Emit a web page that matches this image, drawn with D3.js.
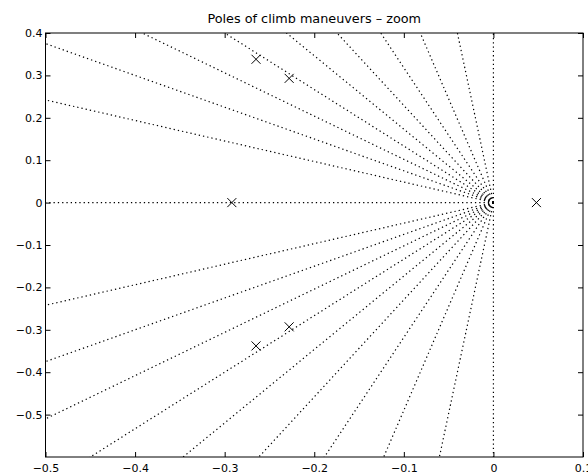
<!DOCTYPE html>
<html>
<head>
<meta charset="utf-8">
<script src="https://cdn.jsdelivr.net/npm/d3@7"></script>
<style>
  html, body { margin: 0; padding: 0; background: #fff; }
  svg { display: block; }
  text { font-family: "DejaVu Sans", sans-serif; fill: #000; }
</style>
</head>
<body>
<svg id="chart" width="588" height="475"></svg>
<script>
// Pole locations (real and imaginary parts)
const poleRe = [-0.292, -0.265, -0.265, -0.228, -0.228, 0.048];
const poleIm = [0.0, 0.338, -0.338, 0.293, -0.293, 0.0];

// Damping ratios for the constant-zeta grid rays
const zetaValues = [0, 0.1, 0.2, 0.3, 0.4, 0.5, 0.6, 0.7, 0.8, 0.9, 1.0];

// Axis ticks and limits
const xTicks = [-0.5, -0.4, -0.3, -0.2, -0.1, 0, 0.1];
const yTicks = [-0.5, -0.4, -0.3, -0.2, -0.1, 0, 0.1, 0.2, 0.3, 0.4];
const xDomain = [-0.5, 0.1];
const yDomain = [-0.6, 0.4];

const titleText = "Poles of climb maneuvers – zoom";

const box = { left: 45.5, right: 583, top: 33, bottom: 457 };

const svg = d3.select("#chart");

const x = d3.scaleLinear().domain(xDomain).range([box.left, box.right]);
const y = d3.scaleLinear().domain(yDomain).range([box.bottom, box.top]);

const fmt = d => (d === 0 ? "0" : d3.format(".1f")(d));

// Clip region for the grid
svg.append("defs").append("clipPath").attr("id", "plotClip")
  .append("rect")
  .attr("x", box.left).attr("y", box.top)
  .attr("width", box.right - box.left).attr("height", box.bottom - box.top);

// Constant damping-ratio rays, drawn outward from the origin
const wnFar = 2.0;
const rays = [];
zetaValues.forEach(z => {
  const s = Math.sqrt(1 - z * z);
  rays.push({ re: -z * wnFar, im: s * wnFar });
  if (s > 1e-9) rays.push({ re: -z * wnFar, im: -s * wnFar });
});

svg.append("g").attr("clip-path", "url(#plotClip)")
  .selectAll("line").data(rays).join("line")
  .attr("x1", x(0)).attr("y1", y(0))
  .attr("x2", d => x(d.re)).attr("y2", d => y(d.im))
  .attr("stroke", "#000")
  .attr("stroke-width", 1.2)
  .attr("stroke-dasharray", "1.3,3");

// Poles (x markers)
const m = 4.5;
const poles = poleRe.map((re, i) => ({ re, im: poleIm[i] }));
const pg = svg.append("g").selectAll("g").data(poles).join("g")
  .attr("transform", d => `translate(${x(d.re)},${y(d.im)})`);
pg.append("path")
  .attr("d", `M${-m},${-m}L${m},${m}M${-m},${m}L${m},${-m}`)
  .attr("stroke", "#000").attr("stroke-width", 1).attr("fill", "none");

// Axes with inward ticks
const tickLen = 5;
const gB = svg.append("g").attr("transform", `translate(0,${box.bottom})`)
  .call(d3.axisBottom(x).tickValues(xTicks).tickFormat(fmt)
    .tickSizeInner(-tickLen).tickSizeOuter(0).tickPadding(7.5));
const gT = svg.append("g").attr("transform", `translate(0,${box.top})`)
  .call(d3.axisTop(x).tickValues(xTicks).tickFormat("")
    .tickSizeInner(-tickLen).tickSizeOuter(0));
const gL = svg.append("g").attr("transform", `translate(${box.left},0)`)
  .call(d3.axisLeft(y).tickValues(yTicks).tickFormat(fmt)
    .tickSizeInner(-tickLen).tickSizeOuter(0).tickPadding(3));
const gR = svg.append("g").attr("transform", `translate(${box.right},0)`)
  .call(d3.axisRight(y).tickValues(yTicks).tickFormat("")
    .tickSizeInner(-tickLen).tickSizeOuter(0));

[gB, gT, gL, gR].forEach(g => {
  g.select(".domain").remove();
  g.selectAll("line").attr("stroke", "#000");
  g.selectAll("text").attr("font-family", "DejaVu Sans, sans-serif")
    .attr("font-size", 11).attr("fill", "#000");
});

// Plot frame
svg.append("rect")
  .attr("x", box.left).attr("y", box.top)
  .attr("width", box.right - box.left).attr("height", box.bottom - box.top)
  .attr("fill", "none").attr("stroke", "#000").attr("stroke-width", 1);

// Title
svg.append("text")
  .attr("x", (box.left + box.right) / 2).attr("y", 22.5)
  .attr("text-anchor", "middle")
  .attr("font-size", 12.8)
  .text(titleText);
</script>
</body>
</html>
